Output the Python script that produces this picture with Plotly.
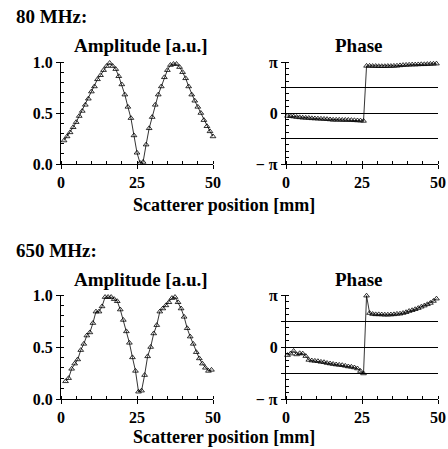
import math
import plotly.graph_objects as go

PI = math.pi

# ---------------- data ----------------
pos_amp80 = list(range(1, 51))
amp80 = [0.23, 0.27, 0.31, 0.36, 0.41, 0.47, 0.52, 0.58, 0.64, 0.71,
         0.76, 0.83, 0.87, 0.92, 0.96, 0.99, 0.96, 0.93, 0.86, 0.78,
         0.68, 0.56, 0.45, 0.28, 0.11, 0.01, 0.02, 0.19, 0.35, 0.46,
         0.58, 0.68, 0.76, 0.85, 0.92, 0.97, 0.98, 0.98, 0.95, 0.90,
         0.84, 0.76, 0.68, 0.62, 0.56, 0.50, 0.43, 0.37, 0.32, 0.27]

pos_amp650 = [1.5 + i for i in range(49)]
amp650 = [0.17, 0.20, 0.29, 0.34, 0.38, 0.47, 0.53, 0.61, 0.64, 0.73,
          0.84, 0.84, 0.89, 0.98, 0.98, 0.98, 0.96, 0.94, 0.86, 0.76,
          0.65, 0.54, 0.40, 0.27, 0.07, 0.08, 0.23, 0.41, 0.50, 0.63,
          0.71, 0.84, 0.87, 0.90, 0.93, 0.97, 0.98, 0.93, 0.87, 0.79,
          0.68, 0.60, 0.53, 0.45, 0.39, 0.34, 0.30, 0.27, 0.28]

pos_ph = [0.5 + i for i in range(50)]
phase80 = [-0.18, -0.20, -0.22, -0.25, -0.27, -0.29, -0.30, -0.31, -0.33, -0.34,
           -0.35, -0.36, -0.37, -0.38, -0.40, -0.42, -0.42, -0.42, -0.43, -0.43,
           -0.43, -0.44, -0.45, -0.46, -0.47, -0.49,
           2.90, 2.90, 2.89, 2.89, 2.88, 2.88, 2.88, 2.89, 2.89, 2.90,
           2.91, 2.93, 2.95, 2.96, 2.97, 2.98, 2.98, 2.99, 3.00, 3.00,
           3.01, 3.02, 3.03, 3.04]
phase650 = [-0.49, -0.40, -0.24, -0.45, -0.38, -0.40, -0.55, -0.78, -0.82, -0.84,
            -0.86, -0.90, -0.92, -0.97, -1.00, -1.03, -1.06, -1.08, -1.10, -1.14,
            -1.18, -1.20, -1.24, -1.30, -1.45, -1.60,
            3.10, 2.05, 1.99, 1.97, 1.97, 1.96, 1.95, 1.95, 1.96, 1.97,
            2.00, 2.01, 2.05, 2.10, 2.17, 2.22, 2.28, 2.35, 2.43, 2.50,
            2.58, 2.66, 2.78, 2.92]

amp_ticks = [0.0, 0.5, 1.0]
amp_ticktext = ["0.0", "0.5", "1.0"]
pos_ticks = [0, 25, 50]
ph_ticks = [-PI, -PI / 2, 0, PI / 2, PI]
ph_ticktext = ["\u2212 \u03c0", "", "0", "", "\u03c0"]

# ---------------- style ----------------
W, H = 448, 449
FONT = "Liberation Serif"
tickfont = dict(family=FONT, size=16, color="black", weight="bold")


def px_x(a, b):
    return [a / W, b / W]


def px_y(top, bottom):
    return [1 - bottom / H, 1 - top / H]


fig = go.Figure()

series = [
    (pos_amp80, amp80, "x", "y"),
    (pos_ph, phase80, "x2", "y2"),
    (pos_amp650, amp650, "x3", "y3"),
    (pos_ph, phase650, "x4", "y4"),
]
for xs, ys, xa, ya in series:
    fig.add_trace(go.Scatter(
        x=xs, y=ys, xaxis=xa, yaxis=ya, mode="lines+markers",
        line=dict(color="black", width=0.8),
        marker=dict(symbol="triangle-up-open", size=5, color="black",
                    line=dict(width=0.8, color="black")),
        showlegend=False, hoverinfo="skip", cliponaxis=False))


def xaxis(domain, anchor):
    return dict(domain=domain, anchor=anchor, range=[0, 50], automargin=False,
                tickmode="array", tickvals=pos_ticks,
                ticks="outside", ticklen=4, tickcolor="black", tickwidth=1,
                showline=True, linecolor="black", linewidth=1.3,
                showgrid=False, zeroline=False, tickfont=tickfont,
                minor=dict(tickmode="linear", tick0=0, dtick=5,
                           ticks="inside", ticklen=3, tickcolor="black",
                           showgrid=False))


def amp_yaxis(domain, anchor):
    return dict(domain=domain, anchor=anchor, range=[0, 1], automargin=False,
                tickmode="array", tickvals=amp_ticks, ticktext=amp_ticktext,
                ticks="outside", ticklen=4, tickcolor="black", tickwidth=1,
                showline=True, linecolor="black", linewidth=1.3,
                showgrid=False, zeroline=False, tickfont=tickfont,
                minor=dict(tickmode="linear", tick0=0, dtick=0.1,
                           ticks="inside", ticklen=3, tickcolor="black",
                           showgrid=False))


def ph_yaxis(domain, anchor):
    return dict(domain=domain, anchor=anchor, range=[-PI, PI], automargin=False,
                tickmode="array", tickvals=ph_ticks, ticktext=ph_ticktext,
                ticks="outside", ticklen=4, tickcolor="black", tickwidth=1,
                showline=True, linecolor="black", linewidth=1.3,
                showgrid=True, gridcolor="black", gridwidth=1,
                zeroline=False, tickfont=tickfont,
                minor=dict(tickmode="linear", tick0=-PI, dtick=PI / 8,
                           ticks="inside", ticklen=3, tickcolor="black",
                           showgrid=False))


top = px_y(62, 164)
bot = px_y(295, 399)
left = px_x(61, 213)
right = px_x(286, 438)

fig.update_layout(
    width=W, height=H,
    margin=dict(l=0, r=0, t=0, b=0, pad=0, autoexpand=False),
    paper_bgcolor="white", plot_bgcolor="white",
    xaxis=xaxis(left, "y"), yaxis=amp_yaxis(top, "x"),
    xaxis2=xaxis(right, "y2"), yaxis2=ph_yaxis(top, "x2"),
    xaxis3=xaxis(left, "y3"), yaxis3=amp_yaxis(bot, "x3"),
    xaxis4=xaxis(right, "y4"), yaxis4=ph_yaxis(bot, "x4"),
)


def note(text, xpx, ypx, size, xanchor="center"):
    fig.add_annotation(text=text, x=xpx / W, y=1 - ypx / H, xref="paper", yref="paper",
                       xanchor=xanchor, yanchor="middle", showarrow=False,
                       font=dict(family=FONT, size=size, color="black", weight="bold"))


note("80 MHz:", 14, 17, 19, "left")
note("Amplitude [a.u.]", 141, 46, 19)
note("Phase", 359, 46, 19)
note("Scatterer position [mm]", 224, 205, 18)
note("650 MHz:", 14, 250, 19, "left")
note("Amplitude [a.u.]", 141, 279, 19)
note("Phase", 359, 279, 19)
note("Scatterer position [mm]", 224, 437, 18)

fig.write_html(
    "out.html",
    config={"displayModeBar": False, "responsive": False},
    post_script=(
        "document.documentElement.style.margin='0';"
        "document.documentElement.style.overflow='hidden';"
        "document.body.style.margin='0';"
        "document.body.style.overflow='hidden';"
    ),
)
